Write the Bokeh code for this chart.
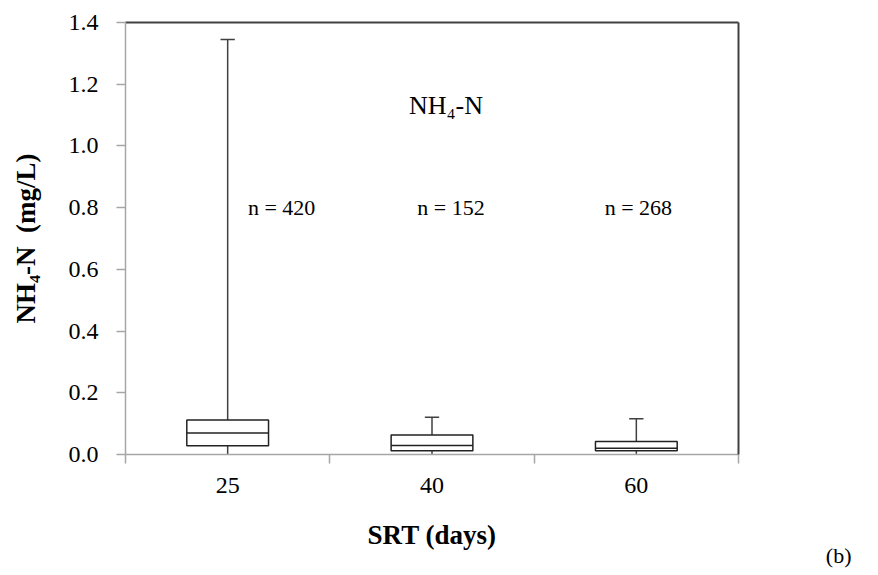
from bokeh.plotting import figure
from bokeh.models import Range1d, FixedTicker, LinearAxis, Label, Title, ColumnDataSource, CustomJSTickFormatter
from bokeh.embed import file_html
from bokeh.resources import INLINE

# ---- data ----
categories = ["25", "40", "60"]
q1 = [0.028, 0.012, 0.012]
median = [0.070, 0.029, 0.020]
q3 = [0.112, 0.063, 0.042]
lower = [0.0, 0.002, 0.002]
upper = [1.345, 0.121, 0.116]
n_counts = [420, 152, 268]
y_ticks = [0.0, 0.2, 0.4, 0.6, 0.8, 1.0, 1.2, 1.4]

FONT = "Liberation Serif"
AXIS_GRAY = "#a6a6a6"
DARK = "#404040"

pos = [i + 0.5 for i in range(len(categories))]
src = ColumnDataSource(dict(x=pos, q1=q1, med=median, q3=q3, lo=lower, hi=upper))

p = figure(width=878, height=575, frame_width=613, frame_height=432,
           x_range=Range1d(0, len(categories)), y_range=Range1d(0, 1.4),
           output_backend="svg", toolbar_location=None,
           min_border_left=125, min_border_right=140, min_border_top=22, min_border_bottom=121)
p.outline_line_color = None
p.grid.visible = False
p.background_fill_color = "white"
p.border_fill_color = "white"

# whiskers
p.segment(x0="x", y0="q3", x1="x", y1="hi", source=src, line_color=DARK, line_width=1.5)
p.segment(x0="x", y0="lo", x1="x", y1="q1", source=src, line_color=DARK, line_width=1.5)
cap = 0.035
p.segment(x0=[x - cap for x in pos], y0=upper, x1=[x + cap for x in pos], y1=upper,
          line_color=DARK, line_width=1.5)
# boxes
p.vbar(x="x", width=0.4, bottom="q1", top="q3", source=src,
       fill_color="white", line_color="#222222", line_width=1.5)
p.segment(x0=[x - 0.2 for x in pos], y0=median, x1=[x + 0.2 for x in pos], y1=median,
          line_color="#222222", line_width=1.5)

# axes
xa = p.xaxis[0]
xa.ticker = FixedTicker(ticks=pos, minor_ticks=list(range(len(categories) + 1)))
xa.major_label_overrides = {x: c for x, c in zip(pos, categories)}
xa.major_tick_out = 0
xa.major_tick_in = 0
xa.minor_tick_out = 9
xa.minor_tick_in = 0
xa.minor_tick_line_color = AXIS_GRAY
xa.axis_line_color = AXIS_GRAY
xa.axis_line_width = 1.5
xa.minor_tick_line_width = 1.5
xa.major_label_standoff = 14
xa.major_label_text_font = FONT
xa.major_label_text_font_size = "24px"
xa.major_label_text_color = "black"
xa.axis_label = "SRT (days)"
xa.axis_label_text_font = FONT
xa.axis_label_text_font_style = "bold"
xa.axis_label_text_font_size = "27px"
xa.axis_label_text_color = "black"
xa.axis_label_standoff = 24

ya = p.yaxis[0]
ya.ticker = FixedTicker(ticks=y_ticks, minor_ticks=[])
ya.formatter = CustomJSTickFormatter(code="return tick.toFixed(1);")
ya.major_tick_out = 9
ya.major_tick_in = 0
ya.major_tick_line_color = AXIS_GRAY
ya.major_tick_line_width = 1.5
ya.axis_line_color = AXIS_GRAY
ya.axis_line_width = 1.5
ya.major_label_standoff = 18
ya.major_label_text_font = FONT
ya.major_label_text_font_size = "24px"
ya.major_label_text_color = "black"
ya.axis_label = "NH\u2084-N\u00a0 (mg/L)"
ya.axis_label_text_font = FONT
ya.axis_label_text_font_style = "bold"
ya.axis_label_text_font_size = "27px"
ya.axis_label_text_color = "black"
ya.axis_label_standoff = 25

for loc in ("above", "right"):
    ax = LinearAxis(ticker=FixedTicker(ticks=[]), axis_line_color=DARK, axis_line_width=2,
                    major_tick_out=0, major_tick_in=0, minor_tick_out=0, minor_tick_in=0,
                    major_label_text_font_size="0px")
    p.add_layout(ax, loc)

# annotations
n_offsets = [54, 19, 2]
for x, n, off in zip(pos, n_counts, n_offsets):
    p.add_layout(Label(x=x, y=0.8, x_offset=off, text=f"n = {n}", text_font=FONT,
                       text_font_size="22px", text_align="center", text_baseline="middle",
                       text_color="black"))
p.add_layout(Label(x=1.5, y=1.13, x_offset=14, text="NH\u2084-N", text_font=FONT,
                   text_font_size="26px", text_align="center", text_baseline="middle",
                   text_color="black"))
p.add_layout(Title(text="(b)", align="right", offset=-113, standoff=-31,
                   text_font=FONT, text_font_size="22px", text_font_style="normal",
                   text_color="black"), "below")

open("out.html", "w").write(file_html(p, INLINE))
